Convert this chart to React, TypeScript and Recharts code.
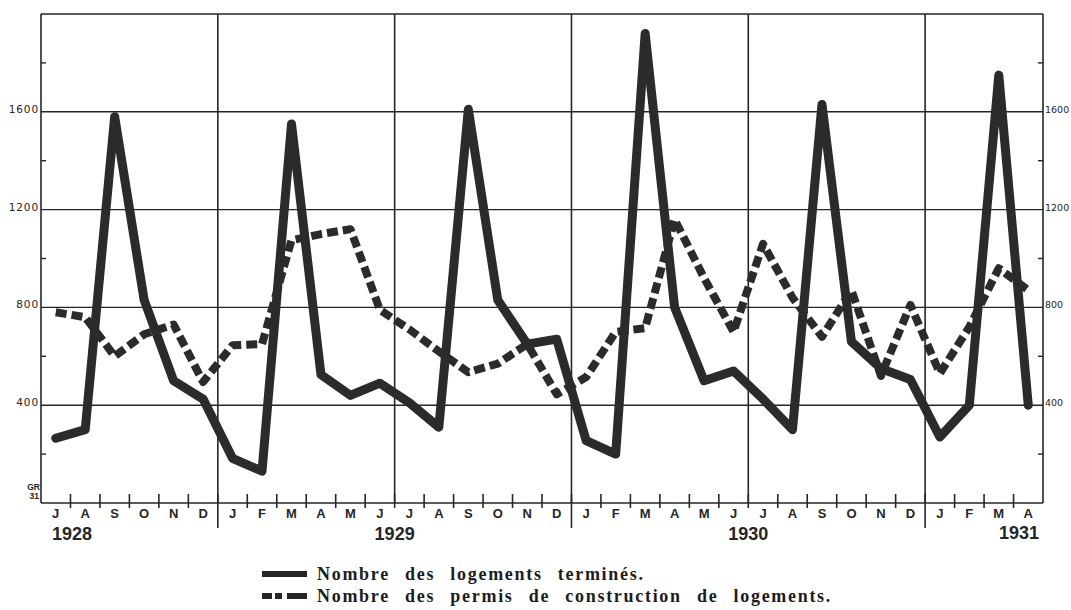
import { LineChart, Line, XAxis, YAxis, ReferenceLine, Legend, CartesianGrid } from 'recharts';

// Monthly values, July 1928 -> April 1931
const months = [
    'J', 'A', 'S', 'O', 'N', 'D',
    'J', 'F', 'M', 'A', 'M', 'J', 'J', 'A', 'S', 'O', 'N', 'D',
    'J', 'F', 'M', 'A', 'M', 'J', 'J', 'A', 'S', 'O', 'N', 'D',
    'J', 'F', 'M', 'A',
];
const years = ['1928', '1929', '1930', '1931'];

const logementsTermines = [
    265, 300, 1580, 830, 500, 425,
    183, 130, 1550, 525, 440, 490, 410, 310, 1610, 830, 650, 670,
    255, 200, 1920, 800, 500, 540, 425, 300, 1630, 660, 550, 505,
    270, 400, 1750, 400,
];
const permisConstruction = [
    780, 760, 600, 690, 730, 495,
    645, 650, 1075, 1100, 1120, 790, 710, 620, 535, 570, 650, 445,
    515, 700, 715, 1160, 920, 700, 1060, 840, 680, 870, 520, 810,
    530, 720, 960, 870,
];

const yTicks = [0, 200, 400, 600, 800, 1000, 1200, 1400, 1600, 1800];
const gridValues = [400, 800, 1200, 1600, 2000];

const data = months.map((m, i) => ({
    mois: m,
    termines: logementsTermines[i],
    permis: permisConstruction[i],
}));

const W = 1071;
const H = 610;
const LEFT_W = 41;
const RIGHT_W = 28;
const BAND = (W - LEFT_W - RIGHT_W) / months.length;
const INK = '#262626';

const MonthTick = (props: any) => {
    const { x, y, payload } = props;
    const i = payload?.index ?? props.index;
    const left = x - BAND / 2;
    const isJanuary = (i + 6) % 12 === 0;
    let year = null;
    if (i === 0) year = <text x={left + 11} y={y + 37} textAnchor="start">{years[0]}</text>;
    if (i === 12) year = <text x={left} y={y + 37} textAnchor="middle">{years[1]}</text>;
    if (i === 24) year = <text x={left} y={y + 37} textAnchor="middle">{years[2]}</text>;
    if (i === months.length - 1) year = <text x={x + BAND / 2 - 4} y={y + 36} textAnchor="end">{years[3]}</text>;
    return (
        <g>
            {i > 0 && <line x1={left} x2={left} y1={y - 9} y2={isJanuary ? y + 25 : y + 5} stroke={INK} strokeWidth={1.6} />}
            <text x={x} y={y + 15} textAnchor="middle" fill={INK}
                style={{ fontFamily: '"Liberation Sans", sans-serif', fontWeight: 'bold', fontSize: 13 }}>
                {payload.value}
            </text>
            <g fill={INK} style={{ fontFamily: '"Liberation Sans", sans-serif', fontWeight: 'bold', fontSize: 18 }}>
                {year}
            </g>
        </g>
    );
};

const ValueTick = (props: any) => {
    const { x, y, payload, side } = props;
    const v = payload.value;
    const isLeft = side === 'left';
    if (v === 0) {
        if (!isLeft) return <g />;
        return (
            <g fill={INK} style={{ fontFamily: '"Liberation Sans", sans-serif', fontWeight: 'bold', fontSize: 8.5 }}>
                <text x={x - 1} y={y - 13} textAnchor="end">GR</text>
                <text x={x - 2} y={y - 4} textAnchor="end">31</text>
            </g>
        );
    }
    if (v % 400 !== 0) {
        return <line x1={x} x2={x + (isLeft ? 5 : -5)} y1={y} y2={y} stroke={INK} strokeWidth={1.4} />;
    }
    return (
        <text x={isLeft ? x - 2 : x + 2} y={y + 1} textAnchor={isLeft ? 'end' : 'start'} fill={INK}
            style={{ fontFamily: '"DejaVu Sans", sans-serif', fontSize: isLeft ? 10.5 : 9.5, letterSpacing: isLeft ? 0.9 : 0 }}>
            {v}
        </text>
    );
};

const LegendContent = (props: any) => {
    const items = props.payload || [];
    return (
        <div style={{
            paddingLeft: 262, fontFamily: '"Liberation Serif", serif', fontWeight: 'bold', fontSize: 18,
            letterSpacing: 1.7, wordSpacing: 9, color: '#1c1c1c', lineHeight: '22px',
        }}>
            {items.map((entry: any, i: number) => {
                const dashed = !!entry.payload?.strokeDasharray;
                return (
                    <div key={`leg-${i}`} style={{ display: 'flex', alignItems: 'center', height: 22 }}>
                        {dashed ? (
                            <span style={{ display: 'flex', width: 45, marginRight: 10 }}>
                                <span style={{ width: 10, height: 6, background: INK, marginRight: 3 }} />
                                <span style={{ width: 7, height: 6, background: INK, marginRight: 5 }} />
                                <span style={{ width: 20, height: 6, background: INK }} />
                            </span>
                        ) : (
                            <span style={{ width: 45, height: 6, background: INK, marginRight: 10 }} />
                        )}
                        <span>{entry.value}</span>
                    </div>
                );
            })}
        </div>
    );
};

// vertical rules every six months, on the month boundaries
const halfYearLines = ({ offset }: any) =>
    months.map((_, i) => i).filter(i => i > 0 && i % 6 === 0)
        .map(i => offset.left + (i * offset.width) / months.length);

export default function App() {
    return (
        <div style={{ position: 'absolute', left: 0, top: 0, background: '#fff' }}>
            <LineChart width={W} height={H} data={data} margin={{ top: 14, right: 0, bottom: 20, left: 0 }}>
                <CartesianGrid yAxisId="left" horizontal={false} stroke={INK} strokeWidth={1.6}
                    verticalCoordinatesGenerator={halfYearLines} />
                <XAxis dataKey="mois" interval={0} padding={{ left: BAND / 2, right: BAND / 2 }} height={40}
                    tickSize={0} tickMargin={0} tickLine={false}
                    axisLine={{ stroke: INK, strokeWidth: 1.6 }} tick={<MonthTick />} />
                <YAxis yAxisId="left" domain={[0, 2000]} ticks={yTicks} interval={0} width={LEFT_W}
                    tickSize={0} tickMargin={0} tickLine={false}
                    axisLine={{ stroke: INK, strokeWidth: 1.6 }} tick={<ValueTick side="left" />} />
                <YAxis yAxisId="right" orientation="right" domain={[0, 2000]} allowDataOverflow ticks={yTicks} interval={0}
                    width={RIGHT_W} tickSize={0} tickMargin={0} tickLine={false}
                    axisLine={{ stroke: INK, strokeWidth: 1.6 }} tick={<ValueTick side="right" />} />
                {gridValues.map(v => (
                    <ReferenceLine key={`h-${v}`} yAxisId="left" y={v} stroke={INK} strokeWidth={1.4} />
                ))}
                <Line yAxisId="left" dataKey="termines" name="Nombre des logements terminés." type="linear"
                    stroke="#2b2b2b" strokeWidth={9} strokeLinejoin="round" strokeLinecap="round"
                    dot={false} activeDot={false} isAnimationActive={false} />
                <Line yAxisId="left" dataKey="permis" name="Nombre des permis de construction de logements." type="linear"
                    stroke="#2b2b2b" strokeWidth={8} strokeDasharray="11 5" strokeLinejoin="round"
                    dot={false} activeDot={false} isAnimationActive={false} />
                <Legend verticalAlign="bottom" content={<LegendContent />}
                    wrapperStyle={{ top: 563, left: 0, bottom: 'auto', height: 47, width: W }} />
            </LineChart>
        </div>
    );
}
